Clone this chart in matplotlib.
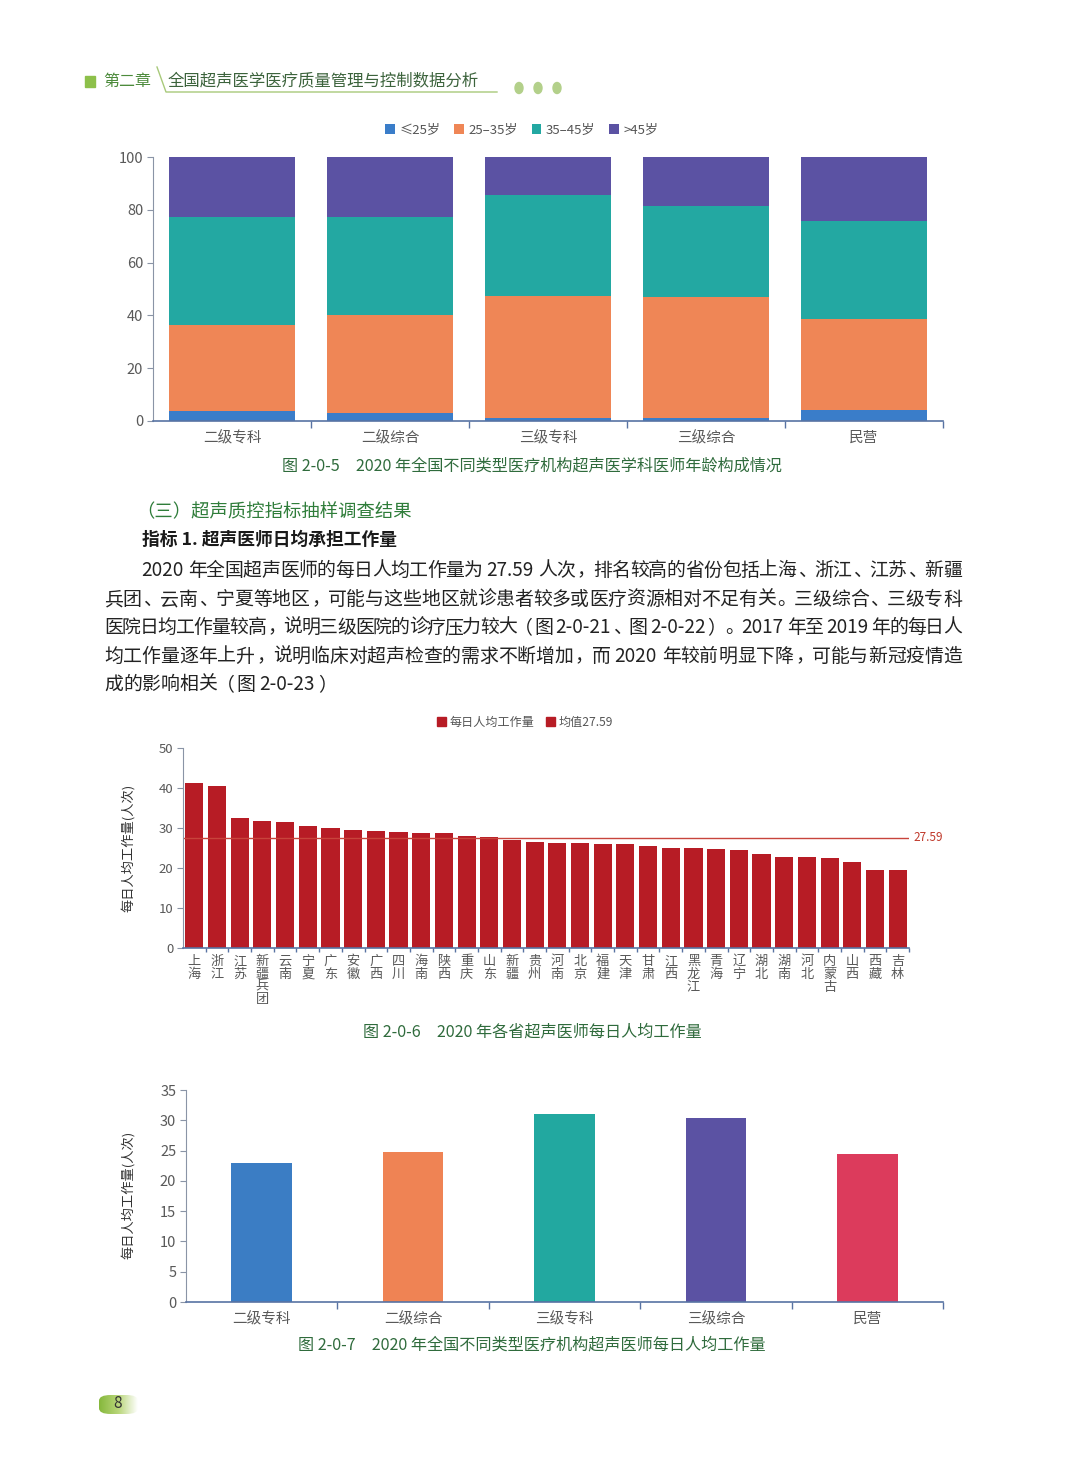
import re

import matplotlib

matplotlib.use('Agg')

import matplotlib.pyplot as plt
import numpy as np
from matplotlib.colors import LinearSegmentedColormap
from matplotlib.font_manager import FontProperties
from matplotlib.lines import Line2D
from matplotlib.patches import Ellipse, FancyBboxPatch, Patch, Rectangle

plt.rcParams['font.family'] = ['Noto Sans CJK SC', 'DejaVu Sans']
FAM = ['Noto Sans CJK SC', 'DejaVu Sans']

# ---- data ----
age_cats = ['二级专科', '二级综合', '三级专科', '三级综合', '民营']
age_groups = ['≤25岁', '25–35岁', '35–45岁', '>45岁']
age_le25 = [3.8, 2.9, 1.3, 1.0, 4.2]
age_25_35 = [32.7, 37.4, 46.2, 45.8, 34.4]
age_35_45 = [40.9, 37.1, 38.0, 34.6, 37.2]
age_gt45 = [22.6, 22.6, 14.5, 18.6, 24.2]

provinces = ['上海', '浙江', '江苏', '新疆兵团', '云南', '宁夏', '广东', '安徽',
             '广西', '四川', '海南', '陕西', '重庆', '山东', '新疆', '贵州',
             '河南', '北京', '福建', '天津', '甘肃', '江西', '黑龙江', '青海',
             '辽宁', '湖北', '湖南', '河北', '内蒙古', '山西', '西藏', '吉林']
prov_workload = [41.3, 40.4, 32.6, 31.7, 31.5, 30.6, 30.0, 29.5,
                 29.2, 28.9, 28.8, 28.7, 28.1, 27.8, 27.1, 26.6,
                 26.2, 26.2, 26.0, 26.0, 25.4, 25.1, 25.1, 24.8,
                 24.5, 23.6, 22.8, 22.8, 22.5, 21.5, 19.6, 19.4]
mean_workload = 27.59

type_cats = ['二级专科', '二级综合', '三级专科', '三级综合', '民营']
type_workload = [22.9, 24.8, 31.0, 30.4, 24.4]

para_lines = [
    '2020 年全国超声医师的每日人均工作量为 27.59 人次，排名较高的省份包括上海、浙江、江苏、新疆',
    '兵团、云南、宁夏等地区，可能与这些地区就诊患者较多或医疗资源相对不足有关。三级综合、三级专科',
    '医院日均工作量较高，说明三级医院的诊疗压力较大（图 2-0-21、图 2-0-22）。2017 年至 2019 年的每日人',
    '均工作量逐年上升，说明临床对超声检查的需求不断增加，而 2020 年较前明显下降，可能与新冠疫情造',
    '成的影响相关（图 2-0-23）',
]

W, H = 1080, 1466
fig = plt.figure(figsize=(W / 100, H / 100), dpi=100)
fig.patch.set_facecolor('white')
renderer = fig.canvas.get_renderer()


def fx(x):
    return x / W


def fy(y):
    return 1 - y / H


def ax_px(l, t, r, b):
    return fig.add_axes([l / W, 1 - b / H, (r - l) / W, (b - t) / H])


SPINE = '#5873a3'
TICK = '#595959'
GREEN = '#2f6b3c'


def style_axes(ax, ymax, ystep, n, ysize):
    for s in ['top', 'right']:
        ax.spines[s].set_visible(False)
    ax.spines['left'].set_color('#8a94a6')
    ax.spines['bottom'].set_color(SPINE)
    ax.spines['bottom'].set_linewidth(1.2)
    ax.set_xlim(-0.5, n - 0.5)
    ax.set_ylim(0, ymax)
    ax.set_yticks(np.arange(0, ymax + 0.1, ystep))
    ax.tick_params(axis='y', length=4, color='#8a94a6', labelcolor=TICK,
                   labelsize=ysize, pad=3)
    ax.set_xticks(np.arange(0.5, n, 1), minor=True)
    ax.tick_params(axis='x', which='minor', length=5, color=SPINE, width=1)
    ax.tick_params(axis='x', which='major', length=0, labelcolor=TICK)


# ---- header ----
fig.add_artist(Rectangle((fx(85), fy(87)), 10 / W, 11 / H, transform=fig.transFigure,
                         color='#8dc04a'))
fig.text(fx(103), fy(81), '第二章', fontsize=11.5, color='#4d8b3c', va='center')
fig.text(fx(168), fy(81), '全国超声医学医疗质量管理与控制数据分析', fontsize=11.8,
         color='#3c633c', va='center')
fig.add_artist(Line2D([fx(157), fx(166), fx(497)], [fy(67), fy(92), fy(92)],
                      transform=fig.transFigure, color='#a8c97a', lw=1))
for dx in [519, 538, 557]:
    fig.add_artist(Ellipse((fx(dx), fy(88)), 8 / W, 11 / H, angle=0,
                           transform=fig.transFigure, color='#b3d08a'))

# ---- chart 1: age composition ----
ax1 = ax_px(153, 157, 943, 421)
colors1 = ['#3a7dc9', '#ef8656', '#23a8a2', '#5b52a3']
bottom = np.zeros(len(age_cats))
for vals, lab, c in zip([age_le25, age_25_35, age_35_45, age_gt45], age_groups, colors1):
    ax1.bar(range(len(age_cats)), vals, bottom=bottom, width=0.8, color=c, label=lab)
    bottom += np.array(vals)
style_axes(ax1, 100, 20, len(age_cats), 10.5)
ax1.set_xticks(range(len(age_cats)))
ax1.set_xticklabels(age_cats, fontsize=10.5)
ax1.tick_params(axis='x', which='major', pad=7)
h1, l1 = ax1.get_legend_handles_labels()
fig.legend(h1, l1, loc='center', bbox_to_anchor=(fx(522), fy(130)), ncol=4,
           frameon=False, fontsize=9.5, handlelength=0.75, handleheight=0.75,
           handletextpad=0.35, columnspacing=1.0, labelcolor='#555555')
fig.text(fx(532), fy(466), '图 2-0-5　2020 年全国不同类型医疗机构超声医学科医师年龄构成情况',
         ha='center', va='center', fontsize=11.6, color=GREEN)

# ---- text section ----
fig.text(fx(136), fy(512), '（三）超声质控指标抽样调查结果', fontsize=13.2,
         color='#2f7d3a', va='center')
fig.text(fx(142), fy(540), '指标 1. 超声医师日均承担工作量', fontsize=12.8,
         fontweight='bold', color='#1a1a1a', va='center')

PSIZE = 13.6
fp_para = FontProperties(family=FAM, size=PSIZE)


def draw_line(line, x0, x1, y_base, justify=True):
    em = PSIZE / 72 * 100
    toks = re.findall(r'[0-9A-Za-z.\-]+| |.', line)
    widths = []
    for t in toks:
        if t == ' ':
            widths.append(em * 0.22)
        elif len(t) == 1 and ord(t) > 0x2000:
            widths.append(em)
        else:
            w = renderer.get_text_width_height_descent(t, fp_para, ismath=False)[0]
            widths.append(w + em * 0.06)
    gap = (x1 - x0 - sum(widths)) / (len(toks) - 1) if justify else 0
    x = x0
    for t, w in zip(toks, widths):
        if t != ' ':
            if t in '，。、）':
                ha, xx = 'left', x + 0.1 * em
            elif t == '（':
                ha, xx = 'right', x + 0.9 * em
            elif len(t) == 1 and ord(t) > 0x2000:
                ha, xx = 'center', x + 0.5 * em
            else:
                ha, xx = 'left', x
            fig.text(fx(xx), fy(y_base), t, ha=ha, va='baseline',
                     fontproperties=fp_para, color='#222222')
        x += w + gap


line_y = [569, 598, 626, 655, 683]
for i, (line, yy) in enumerate(zip(para_lines, line_y)):
    x0 = 141 if i == 0 else 104
    draw_line(line, x0, 962, yy + 7, justify=(i < len(para_lines) - 1))

# ---- chart 2: provinces ----
ax2 = ax_px(183, 748, 909, 948)
ax2.bar(range(len(provinces)), prov_workload, width=0.8, color='#b71c25')
ax2.axhline(mean_workload, color='#c8443c', lw=1)
ax2.text(1.006, mean_workload, f'{mean_workload:.2f}', transform=ax2.get_yaxis_transform(),
         ha='left', va='center', fontsize=8.5, color='#c0392b')
style_axes(ax2, 50, 10, len(provinces), 9.5)
ax2.set_xticks(range(len(provinces)))
ax2.set_xticklabels(['\n'.join(p) for p in provinces], fontsize=9.5, linespacing=0.98)
ax2.tick_params(axis='x', which='major', pad=5)
ax2.tick_params(axis='x', which='minor', length=3)
fig.text(fx(128), fy(848), '每日人均工作量(人次)', rotation=90, ha='center', va='center',
         fontsize=9.5, color='#333333')
leg_h = [Patch(color='#b71c25'), Patch(color='#b71c25')]
fig.legend(leg_h, ['每日人均工作量', f'均值{mean_workload}'], loc='center',
           bbox_to_anchor=(fx(525), fy(722)), ncol=2, frameon=False, fontsize=8.7,
           handlelength=0.75, handleheight=0.75, handletextpad=0.3,
           columnspacing=0.9, labelcolor='#555555')
fig.text(fx(532), fy(1032), '图 2-0-6　2020 年各省超声医师每日人均工作量',
         ha='center', va='center', fontsize=11.6, color=GREEN)

# ---- chart 3: institution types ----
ax3 = ax_px(186, 1090, 943, 1302)
colors3 = ['#3b7dc4', '#ef8354', '#22a8a0', '#5b52a3', '#dc3b5c']
ax3.bar(range(len(type_cats)), type_workload, width=0.4, color=colors3)
style_axes(ax3, 35, 5, len(type_cats), 10.5)
ax3.set_xticks(range(len(type_cats)))
ax3.set_xticklabels(type_cats, fontsize=10.5)
ax3.tick_params(axis='x', which='major', pad=7)
fig.text(fx(128), fy(1195), '每日人均工作量(人次)', rotation=90, ha='center', va='center',
         fontsize=9.5, color='#333333')
fig.text(fx(532), fy(1345), '图 2-0-7　2020 年全国不同类型医疗机构超声医师每日人均工作量',
         ha='center', va='center', fontsize=11.6, color=GREEN)

# ---- page number badge ----
bax = ax_px(99, 1395, 138, 1414)
bax.axis('off')
cmap = LinearSegmentedColormap.from_list('g', ['#86b83c', '#b9d67a', '#ffffff'])
im = bax.imshow(np.linspace(0, 1, 100)[None, :], extent=[0, 1, 0, 1], aspect='auto',
                cmap=cmap)
clip = FancyBboxPatch((0, 0), 1, 1, boxstyle='round,pad=0,rounding_size=0.3',
                      transform=bax.transAxes, fc='none', ec='none')
bax.add_patch(clip)
im.set_clip_path(clip)
fig.text(fx(118), fy(1404), '8', ha='center', va='center', fontsize=11, color='#333333')

fig.savefig('out.png', dpi=100, facecolor='white')
